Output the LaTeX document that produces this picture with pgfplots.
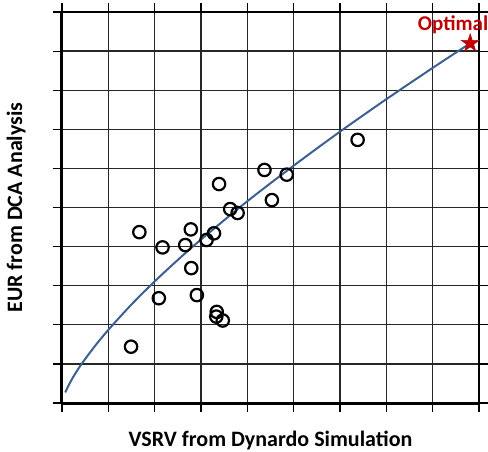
\documentclass[border=0pt]{standalone}
\usepackage{fontspec}
\setmainfont{Carlito}
\usepackage{pgfplots}
\pgfplotsset{compat=1.18}
\definecolor{fitblue}{RGB}{60,96,145}
\definecolor{optred}{RGB}{192,0,0}
% filled five-pointed star
\pgfdeclareplotmark{fstar}{%
  \pgfpathmoveto{\pgfpointpolar{90}{\pgfplotmarksize}}%
  \pgfpathlineto{\pgfpointpolar{126}{0.382\pgfplotmarksize}}%
  \pgfpathlineto{\pgfpointpolar{162}{\pgfplotmarksize}}%
  \pgfpathlineto{\pgfpointpolar{198}{0.382\pgfplotmarksize}}%
  \pgfpathlineto{\pgfpointpolar{234}{\pgfplotmarksize}}%
  \pgfpathlineto{\pgfpointpolar{270}{0.382\pgfplotmarksize}}%
  \pgfpathlineto{\pgfpointpolar{306}{\pgfplotmarksize}}%
  \pgfpathlineto{\pgfpointpolar{342}{0.382\pgfplotmarksize}}%
  \pgfpathlineto{\pgfpointpolar{18}{\pgfplotmarksize}}%
  \pgfpathlineto{\pgfpointpolar{54}{0.382\pgfplotmarksize}}%
  \pgfpathclose
  \pgfusepathqfillstroke}
\begin{document}
\begin{tikzpicture}
\useasboundingbox (-62pt,-48pt) rectangle (426pt,403pt);
\begin{axis}[
  scale only axis,
  width=417pt, height=391pt,
  xmin=0, xmax=9, ymin=0, ymax=10,
  xtick={0,1,...,9}, ytick={0,1,...,10},
  xticklabels={}, yticklabels={},
  tick align=outside,
  major tick length=9pt,
  tick style={black, line width=1.2pt},
  grid=major,
  major grid style={black!85, line width=1.3pt},
  axis line style={black, line width=2pt},
  clip=false,
  xlabel={\bfseries VSRV from Dynardo Simulation},
  ylabel={\bfseries EUR from DCA Analysis},
  label style={font=\fontsize{22}{26}\selectfont},
  xlabel style={at={(axis description cs:0.5,-0.095)}, anchor=center},
  ylabel style={at={(axis description cs:-0.11,0.5)}, anchor=center},
]
\draw[black, line width=3pt] (rel axis cs:0,0) -- (rel axis cs:0,1);
\draw[black, line width=3pt] (rel axis cs:0,0) -- (rel axis cs:1,0);
\addplot[fitblue, line width=2pt, smooth] coordinates {
  (0.07,0.27) (0.2,0.58) (0.4,0.96) (0.7,1.44) (1,1.87) (1.5,2.52)
  (2,3.11) (2.5,3.66) (3,4.18) (4,5.16) (5,6.07) (6,6.94) (7,7.77)
  (8,8.57) (8.81,9.20)
};
\addplot[only marks, mark=o, mark size=6.2pt, black, line width=2.2pt] coordinates {
  (1.67,4.37) (2.17,3.98) (2.66,4.04) (2.78,4.44) (3.12,4.17) (3.28,4.34)
  (3.39,5.60) (3.63,4.96) (3.79,4.86) (4.37,5.96) (4.53,5.19) (4.85,5.84)
  (6.38,6.73) (2.79,3.45) (2.91,2.76) (2.09,2.68) (1.49,1.44) (3.34,2.33)
  (3.33,2.21) (3.47,2.11)
};
\addplot[only marks, mark=fstar, mark size=9.5pt, optred, fill=optred, line width=0.5pt] coordinates {(8.81,9.20)};
\node[text=optred, font=\fontsize{21}{25}\selectfont\bfseries, anchor=center] at (axis cs:8.44,9.67) {Optimal};
\end{axis}
\end{tikzpicture}
\end{document}
